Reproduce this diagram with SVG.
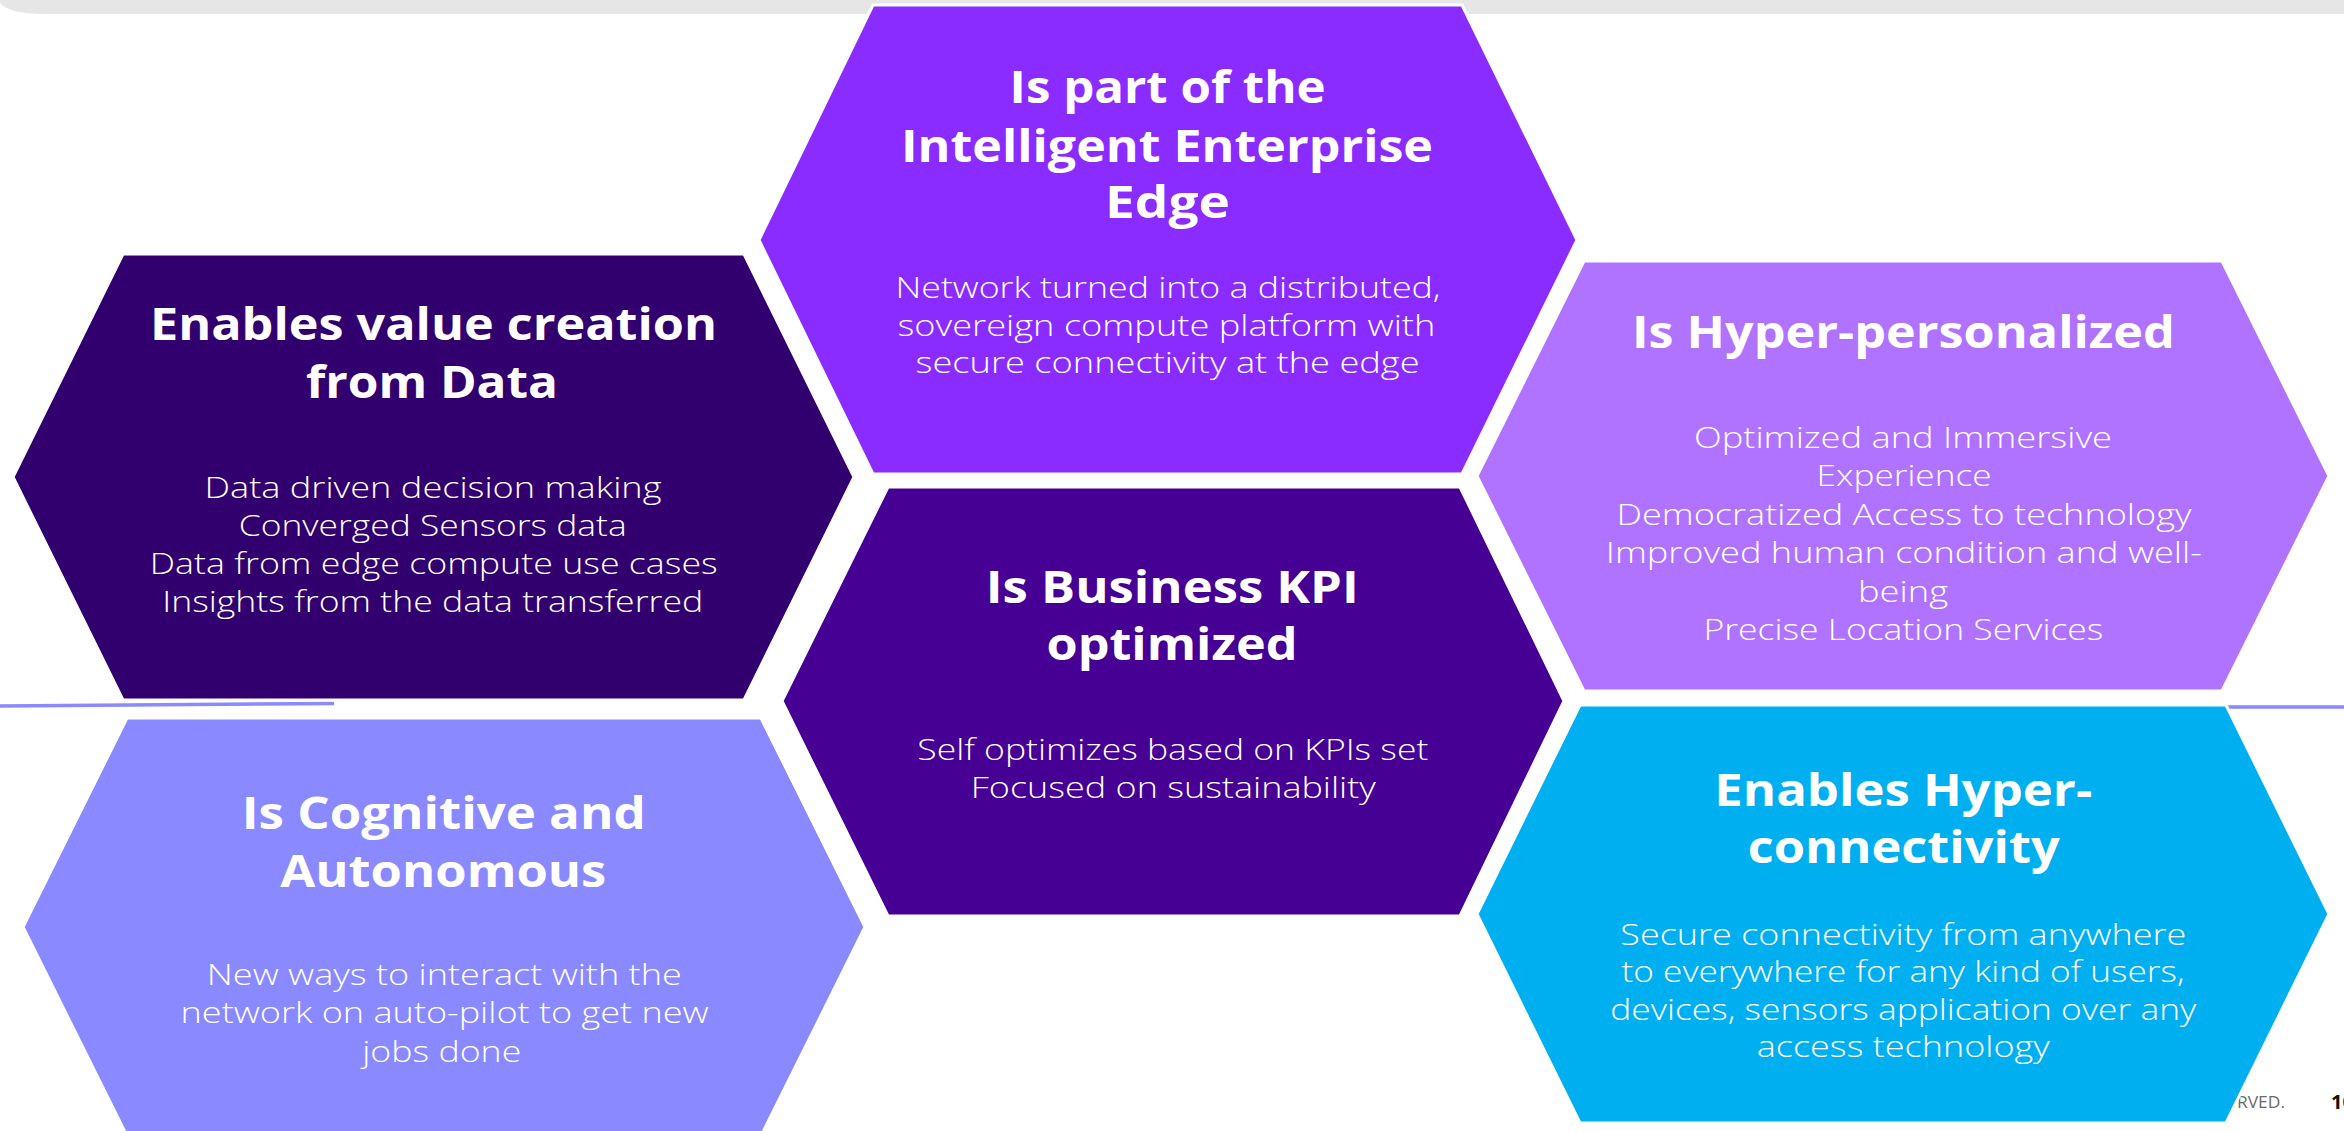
<svg xmlns="http://www.w3.org/2000/svg" width="2344" height="1131" viewBox="0 0 2344 1131">
<style>
.hex{stroke:#ffffff;stroke-width:3;stroke-linejoin:miter}
.h{font-family:"Open Sans","Liberation Sans",sans-serif;font-weight:700;font-size:45px;fill:#ffffff;text-anchor:middle}
.b{font-family:"Open Sans","Liberation Sans",sans-serif;font-weight:300;font-size:29px;fill:#ffffff;text-anchor:middle}
.deco{stroke:#8A89FF;stroke-width:3.5;fill:none}
</style>
<rect x="0" y="0" width="2344" height="1131" fill="#ffffff"/>
<path d="M0 0 H2344 V14 H44 C20 14 6 10 0 3 Z" fill="#E6E6E6"/>
<g id="footer">
<text x="2237" y="1108" font-family="Open Sans, Liberation Sans, sans-serif" font-size="16" fill="#6b6b6b" textLength="48" lengthAdjust="spacingAndGlyphs">RVED.</text>
<text x="2331" y="1109" font-family="Open Sans, Liberation Sans, sans-serif" font-weight="700" font-size="20" fill="#111111">10</text>
</g>
<g id="lines">
<line class="deco" x1="0" y1="706" x2="334" y2="703.5"/>
<line class="deco" x1="2226" y1="707" x2="2344" y2="707"/>
</g>
<g id="node-data">
<polygon class="hex" points="123,254 744,254 854,477 744,700 123,700 13,477" fill="#32006E"/>
<text class="h" x="433.5" y="340" textLength="567" lengthAdjust="spacingAndGlyphs">Enables value creation</text>
<text class="h" x="432" y="398" textLength="252" lengthAdjust="spacingAndGlyphs">from Data</text>
<text class="b" x="433" y="497.7" textLength="457" lengthAdjust="spacingAndGlyphs">Data driven decision making</text>
<text class="b" x="432.7" y="535.5" textLength="388" lengthAdjust="spacingAndGlyphs">Converged Sensors data</text>
<text class="b" x="433.8" y="574" textLength="568" lengthAdjust="spacingAndGlyphs">Data from edge compute use cases</text>
<text class="b" x="432.7" y="612.3" textLength="541" lengthAdjust="spacingAndGlyphs">Insights from the data transferred</text>
</g>
<g id="node-edge">
<polygon class="hex" points="873,5 1462,5 1577,240 1462,474 873,474 759,240" fill="#8A2BFF"/>
<text class="h" x="1167.6" y="103" textLength="316" lengthAdjust="spacingAndGlyphs">Is part of the</text>
<text class="h" x="1167" y="161.7" textLength="532" lengthAdjust="spacingAndGlyphs">Intelligent Enterprise</text>
<text class="h" x="1167.5" y="218.3" textLength="125" lengthAdjust="spacingAndGlyphs">Edge</text>
<text class="b" x="1168" y="298" textLength="545" lengthAdjust="spacingAndGlyphs">Network turned into a distributed,</text>
<text class="b" x="1166.4" y="335.5" textLength="538" lengthAdjust="spacingAndGlyphs">sovereign compute platform with</text>
<text class="b" x="1167.6" y="373" textLength="504" lengthAdjust="spacingAndGlyphs">secure connectivity at the edge</text>
</g>
<g id="node-personalized">
<polygon class="hex" points="1584,261 2222,261 2329,476 2222,691 1584,691 1477,476" fill="#B073FF"/>
<text class="h" x="1903.4" y="348" textLength="543" lengthAdjust="spacingAndGlyphs">Is Hyper-personalized</text>
<text class="b" x="1903" y="448" textLength="418" lengthAdjust="spacingAndGlyphs">Optimized and Immersive</text>
<text class="b" x="1904" y="486.4" textLength="175" lengthAdjust="spacingAndGlyphs">Experience</text>
<text class="b" x="1904" y="524.8" textLength="575" lengthAdjust="spacingAndGlyphs">Democratized Access to technology</text>
<text class="b" x="1903.8" y="563.2" textLength="596" lengthAdjust="spacingAndGlyphs">Improved human condition and well-</text>
<text class="b" x="1903" y="601.6" textLength="90" lengthAdjust="spacingAndGlyphs">being</text>
<text class="b" x="1903.4" y="640" textLength="400" lengthAdjust="spacingAndGlyphs">Precise Location Services</text>
</g>
<g id="node-kpi">
<polygon class="hex" points="888,487 1460,487 1564,701 1460,916 888,916 782,701" fill="#460094"/>
<text class="h" x="1172.3" y="603" textLength="373" lengthAdjust="spacingAndGlyphs">Is Business KPI</text>
<text class="h" x="1172" y="660" textLength="251" lengthAdjust="spacingAndGlyphs">optimized</text>
<text class="b" x="1172.8" y="760" textLength="511" lengthAdjust="spacingAndGlyphs">Self optimizes based on KPIs set</text>
<text class="b" x="1173.3" y="798" textLength="405" lengthAdjust="spacingAndGlyphs">Focused on sustainability</text>
</g>
<g id="node-cognitive">
<polygon class="hex" points="127,718 761,718 865,927 761,1136 127,1136 23,927" fill="#8A89FF"/>
<text class="h" x="443.7" y="829" textLength="404" lengthAdjust="spacingAndGlyphs">Is Cognitive and</text>
<text class="h" x="443.3" y="886.7" textLength="326" lengthAdjust="spacingAndGlyphs">Autonomous</text>
<text class="b" x="444.3" y="985" textLength="475" lengthAdjust="spacingAndGlyphs">New ways to interact with the</text>
<text class="b" x="444.6" y="1023" textLength="528" lengthAdjust="spacingAndGlyphs">network on auto-pilot to get new</text>
<text class="b" x="441.8" y="1061.7" textLength="159" lengthAdjust="spacingAndGlyphs">jobs done</text>
</g>
<g id="node-connectivity">
<polygon class="hex" points="1580,705 2226,705 2329,914 2226,1123 1580,1123 1477,914" fill="#00AFEF"/>
<text class="h" x="1903.3" y="806" textLength="378" lengthAdjust="spacingAndGlyphs">Enables Hyper-</text>
<text class="h" x="1903.7" y="862.7" textLength="312" lengthAdjust="spacingAndGlyphs">connectivity</text>
<text class="b" x="1903.3" y="945" textLength="566" lengthAdjust="spacingAndGlyphs">Secure connectivity from anywhere</text>
<text class="b" x="1903" y="982" textLength="563" lengthAdjust="spacingAndGlyphs">to everywhere for any kind of users,</text>
<text class="b" x="1903.3" y="1020" textLength="586" lengthAdjust="spacingAndGlyphs">devices, sensors application over any</text>
<text class="b" x="1903.3" y="1057" textLength="293" lengthAdjust="spacingAndGlyphs">access technology</text>
</g>
</svg>
